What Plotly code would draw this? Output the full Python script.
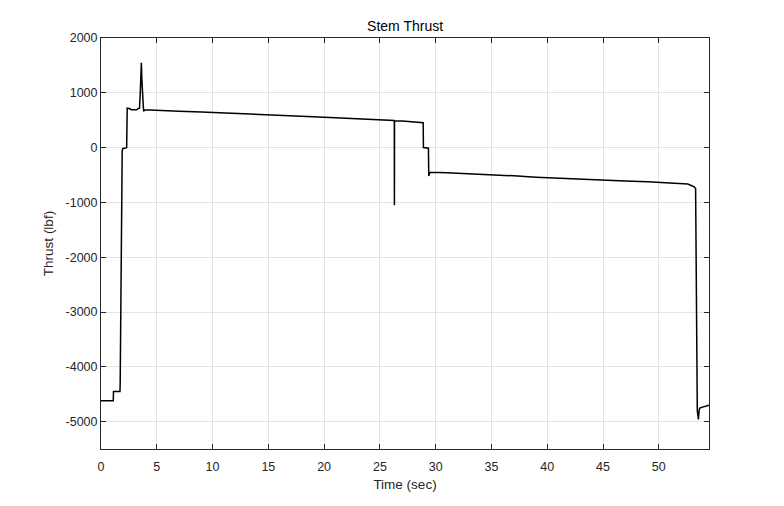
import plotly.graph_objects as go

# Time (sec) and thrust (lbf)
time_s = [0.0, 0.5, 1.1, 1.12, 1.15, 1.7, 1.72, 1.78, 1.85, 1.9, 1.95, 2.15, 2.3, 2.35,
          2.6, 2.7, 3.0, 3.2, 3.3, 3.45, 3.52, 3.58, 3.62, 3.66, 3.72, 3.78, 3.82, 3.9,
          5.0, 7.0, 9.0, 11.0, 13.0, 15.0, 17.0, 19.0, 21.0, 23.0, 25.0, 26.28, 26.29,
          26.3, 26.31, 27.0, 28.0, 28.7, 28.8, 28.88, 28.9, 29.3, 29.35, 29.38, 29.48,
          31.0, 33.0, 35.0, 37.0, 39.0, 41.0, 43.0, 45.0, 47.0, 49.0, 51.0, 52.2, 52.6,
          53.0, 53.2, 53.3, 53.38, 53.45, 53.55, 53.62, 53.7, 54.0, 54.3, 54.5]
thrust_lbf = [-4620, -4625, -4620, -4450, -4450, -4450, -4300, -2500, -150, -60, -20, 0, 0, 720,
              710, 690, 695, 690, 710, 720, 1000, 1350, 1550, 1250, 900, 700, 660, 690,
              685, 665, 650, 635, 615, 600, 585, 565, 545, 530, 515, 495, 490,
              -1050, 490, 485, 472, 470, 460, 455, 0, 0, -10, -520, -450,
              -460, -475, -500, -515, -540, -560, -575, -590, -610, -625, -640, -660, -665,
              -700, -720, -750, -2500, -4800, -4960, -4780, -4750, -4730, -4710, -4700]

x_ticks = [0, 5, 10, 15, 20, 25, 30, 35, 40, 45, 50]
y_ticks = [-5000, -4000, -3000, -2000, -1000, 0, 1000, 2000]

FONT = "Liberation Sans, Arial, sans-serif"

fig = go.Figure()
fig.add_trace(go.Scatter(x=time_s, y=thrust_lbf, mode="lines",
                         line=dict(color="black", width=1.5), showlegend=False))

axis_font = dict(family=FONT, size=12.5, color="#262626")
common = dict(showline=True, linecolor="#262626", linewidth=1, mirror="allticks",
              ticks="inside", ticklen=5, tickcolor="#262626", showgrid=True,
              gridcolor="#e3e3e3", gridwidth=1, zeroline=False, tickfont=axis_font)

fig.update_layout(
    width=784, height=506,
    margin=dict(l=101, r=75, t=38, b=57),
    paper_bgcolor="white", plot_bgcolor="white",
    title=dict(text="Stem Thrust", x=0.5167, xanchor="center", y=0.948, yanchor="middle",
               font=dict(family=FONT, size=14, color="#000000")),
    xaxis=dict(range=[0, 54.5], tickvals=x_ticks, ticktext=[str(v) for v in x_ticks],
               ticklabelstandoff=6,
               title=dict(text="Time (sec)", font=dict(family=FONT, size=13.5, color="#262626"), standoff=6),
               **common),
    yaxis=dict(range=[-5500, 2000], tickvals=y_ticks, ticktext=[str(v) for v in y_ticks],
               title=dict(text="Thrust (lbf)", font=dict(family=FONT, size=13.5, color="#262626"), standoff=8),
               **common),
)

fig.write_html("out.html")
